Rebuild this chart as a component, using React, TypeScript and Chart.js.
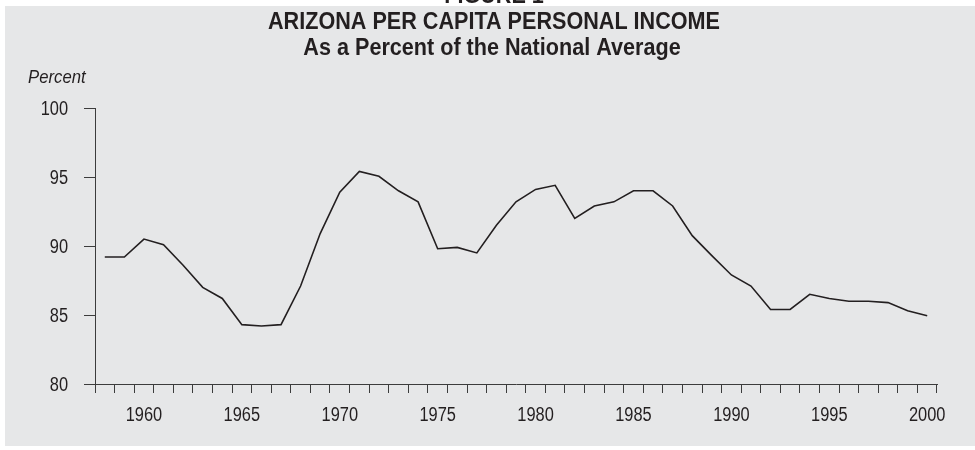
import React, { useEffect, useRef } from "react";
import { Chart, registerables } from "chart.js";

Chart.register(...registerables);

const years: string[] = [
  "1958", "1959", "1960", "1961", "1962", "1963", "1964", "1965", "1966", "1967",
  "1968", "1969", "1970", "1971", "1972", "1973", "1974", "1975", "1976", "1977",
  "1978", "1979", "1980", "1981", "1982", "1983", "1984", "1985", "1986", "1987",
  "1988", "1989", "1990", "1991", "1992", "1993", "1994", "1995", "1996", "1997",
  "1998", "1999", "2000",
];

const percentOfNational: number[] = [
  89.2, 89.2, 90.5, 90.1, 88.6, 87.0, 86.2, 84.3, 84.2, 84.3,
  87.1, 90.9, 93.9, 95.4, 95.05, 94.0, 93.2, 89.8, 89.9, 89.5,
  91.5, 93.2, 94.1, 94.4, 92.0, 92.9, 93.2, 94.0, 94.0, 92.9,
  90.75, 89.3, 87.9, 87.1, 85.4, 85.4, 86.5, 86.2, 86.0, 86.0,
  85.9, 85.3, 84.95,
];

const yTicks: number[] = [80, 85, 90, 95, 100];
const xLabelYears: string[] = ["1960", "1965", "1970", "1975", "1980", "1985", "1990", "1995", "2000"];

const figureLabel = "FIGURE 1";
const titleLines: string[] = [
  "ARIZONA PER CAPITA PERSONAL INCOME",
  "As a Percent of the National Average",
];
const yAxisLabel = "Percent";

const INK = "#231f20";
const AXIS = "#3c3c3c";
const PANEL = "#e6e7e8";
const FONT = "'Liberation Sans', Arial, Helvetica, sans-serif";

// draw horizontally condensed text (the original uses a condensed face)
function condensedText(
  ctx: CanvasRenderingContext2D,
  text: string,
  x: number,
  y: number,
  squeeze: number,
  align: CanvasTextAlign,
  baseline: CanvasTextBaseline
) {
  ctx.save();
  ctx.translate(x, y);
  ctx.scale(squeeze, 1);
  ctx.textAlign = align;
  ctx.textBaseline = baseline;
  ctx.fillText(text, 0, 0);
  ctx.restore();
}

const backgroundPlugin = {
  id: "panelBackground",
  beforeDraw(chart: any) {
    const ctx = chart.ctx as CanvasRenderingContext2D;
    const w = chart.width;
    const h = chart.height;
    ctx.save();
    ctx.fillStyle = "#ffffff";
    ctx.fillRect(0, 0, w, h);
    ctx.fillStyle = INK;
    ctx.font = `bold 24px ${FONT}`;
    condensedText(ctx, figureLabel, 494, 3, 0.9, "center", "alphabetic");
    ctx.fillStyle = PANEL;
    ctx.fillRect(5, 6, w - 5, h - 10);
    ctx.fillStyle = INK;
    ctx.font = `bold 24px ${FONT}`;
    condensedText(ctx, titleLines[0], 494, 29, 0.9, "center", "alphabetic");
    condensedText(ctx, titleLines[1], 492, 55, 0.9, "center", "alphabetic");
    ctx.font = `italic 19px ${FONT}`;
    condensedText(ctx, yAxisLabel, 28, 83, 0.88, "left", "alphabetic");
    ctx.restore();
  },
  afterDraw(chart: any) {
    const ctx = chart.ctx as CanvasRenderingContext2D;
    const xs = chart.scales.x;
    const ys = chart.scales.y;
    ctx.save();
    ctx.fillStyle = INK;
    ctx.font = `20px ${FONT}`;
    xLabelYears.forEach((yr) => {
      const idx = years.indexOf(yr);
      const px = xs.getPixelForValue(idx);
      condensedText(ctx, yr, px, 421, 0.82, "center", "alphabetic");
    });
    yTicks.forEach((v) => {
      const py = ys.getPixelForValue(v);
      condensedText(ctx, String(v), 68, py + 7, 0.82, "right", "alphabetic");
    });
    ctx.restore();
  },
};

export default function App() {
  const canvasRef = useRef<HTMLCanvasElement | null>(null);

  useEffect(() => {
    if (!canvasRef.current) return;
    const chart = new Chart(canvasRef.current, {
      type: "line",
      data: {
        labels: years,
        datasets: [
          {
            data: percentOfNational,
            borderColor: INK,
            borderWidth: 1.6,
            pointRadius: 0,
            tension: 0,
            fill: false,
          },
        ],
      },
      options: {
        responsive: false,
        animation: false,
        layout: { padding: { left: 0, right: 38, top: 108, bottom: 0 } },
        plugins: {
          legend: { display: false },
          tooltip: { enabled: false },
          title: { display: false },
        },
        scales: {
          x: {
            type: "category",
            offset: true,
            grid: {
              offset: true,
              drawOnChartArea: false,
              drawTicks: true,
              tickLength: 9,
              color: AXIS,
              lineWidth: 1,
            },
            border: { display: true, color: AXIS, width: 1 },
            ticks: {
              autoSkip: false,
              maxRotation: 0,
              minRotation: 0,
              color: "rgba(0,0,0,0)",
              font: { family: FONT, size: 19 },
            },
            afterFit: (scale: any) => {
              scale.height = 66;
            },
          },
          y: {
            min: 80,
            max: 100,
            afterBuildTicks: (scale: any) => {
              scale.ticks = yTicks.map((v) => ({ value: v }));
            },
            grid: {
              drawOnChartArea: false,
              drawTicks: true,
              tickLength: 11,
              color: AXIS,
              lineWidth: 1,
            },
            border: { display: true, color: AXIS, width: 1 },
            ticks: {
              color: "rgba(0,0,0,0)",
              font: { family: FONT, size: 19 },
            },
            afterFit: (scale: any) => {
              scale.width = 95;
            },
          },
        },
      },
      plugins: [backgroundPlugin],
    });
    return () => chart.destroy();
  }, []);

  return (
    <div style={{ position: "absolute", left: 0, top: 0, width: 975, height: 450 }}>
      <canvas ref={canvasRef} width={975} height={450} style={{ display: "block" }} />
    </div>
  );
}
